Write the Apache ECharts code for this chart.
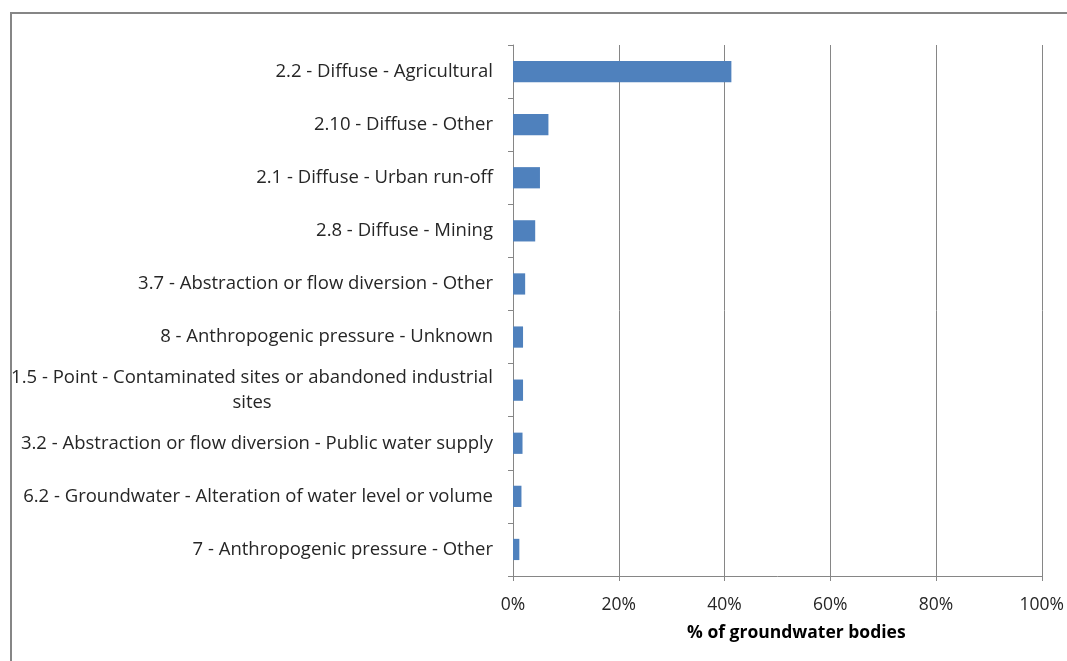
<!DOCTYPE html>
<html>
<head>
<meta charset="utf-8">
<script src="https://cdn.jsdelivr.net/npm/echarts@6/dist/echarts.min.js"></script>
<style>
  html, body { margin: 0; padding: 0; background: #fff; }
  #chart { width: 1067px; height: 661px; }
</style>
</head>
<body>
<div id="chart"></div>
<script>
// Pressures on groundwater bodies, share of bodies affected (%)
const categories = [
  '2.2 - Diffuse - Agricultural',
  '2.10 - Diffuse - Other',
  '2.1 - Diffuse - Urban run-off',
  '2.8 - Diffuse - Mining',
  '3.7 - Abstraction or flow diversion - Other',
  '8 - Anthropogenic pressure - Unknown',
  '1.5 - Point - Contaminated sites or abandoned industrial\nsites',
  '3.2 - Abstraction or flow diversion - Public water supply',
  '6.2 - Groundwater - Alteration of water level or volume',
  '7 - Anthropogenic pressure - Other'
];
const shares = [41.3, 6.7, 5.1, 4.2, 2.3, 1.9, 1.9, 1.8, 1.6, 1.2];
const xTicks = [0, 20, 40, 60, 80, 100];
const xTitle = '% of groundwater bodies';

const FONT = 'Open Sans';
const AXIS_GREY = '#868686';
const TEXT = '#262626';

const chart = echarts.init(document.getElementById('chart'), null, { renderer: 'canvas' });

chart.setOption({
  animation: false,
  backgroundColor: '#ffffff',
  grid: { left: 513, right: 24, top: 45, bottom: 85, containLabel: false },
  graphic: [{
    type: 'rect',
    shape: { x: 11, y: 13, width: 1200, height: 800 },
    style: { fill: 'none', stroke: AXIS_GREY, lineWidth: 2 },
    silent: true
  }],
  xAxis: {
    type: 'value',
    min: xTicks[0],
    max: xTicks[xTicks.length - 1],
    interval: xTicks[1] - xTicks[0],
    name: xTitle,
    nameLocation: 'middle',
    nameGap: 48,
    nameTextStyle: { fontFamily: FONT, fontSize: 17.5, fontWeight: 'bold', color: '#000', padding: [0, 0, 0, 38] },
    axisLine: { show: true, lineStyle: { color: AXIS_GREY, width: 1 } },
    axisTick: { show: true, length: 5, lineStyle: { color: AXIS_GREY } },
    axisLabel: { formatter: '{value}%', fontFamily: FONT, fontSize: 17.5, color: TEXT, margin: 20 },
    splitLine: { show: true, lineStyle: { color: AXIS_GREY, width: 1 } }
  },
  yAxis: {
    type: 'category',
    data: categories,
    inverse: true,
    axisLine: { show: true, lineStyle: { color: AXIS_GREY, width: 1 } },
    axisTick: { show: true, length: 5, interval: 0, lineStyle: { color: AXIS_GREY } },
    axisLabel: {
      interval: 0,
      margin: 20,
      fontFamily: FONT,
      fontSize: 18.5,
      color: TEXT,
      lineHeight: 25,
      formatter: function (v) {
        return v.split('\n').map(function (s) { return '{c|' + s + '}'; }).join('\n');
      },
      rich: { c: { align: 'center', fontFamily: FONT, fontSize: 18.5, color: TEXT, lineHeight: 25 } }
    },
    splitLine: { show: false }
  },
  series: [{
    type: 'bar',
    data: shares,
    barWidth: '40%',
    itemStyle: { color: '#4F81BD' }
  }]
});
</script>
</body>
</html>
